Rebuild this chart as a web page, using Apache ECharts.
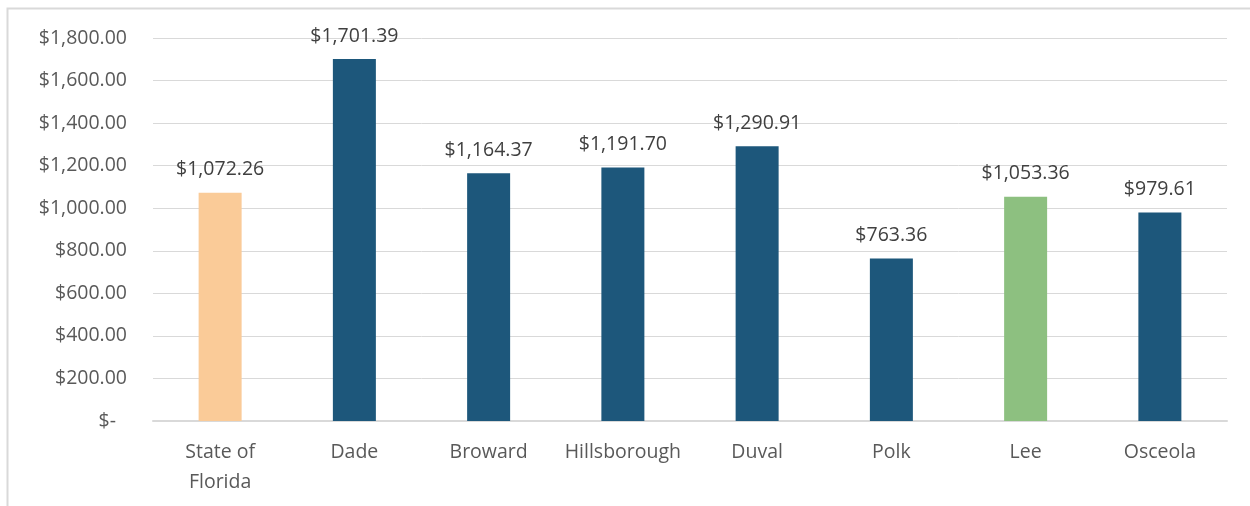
<!DOCTYPE html>
<html>
<head>
<meta charset="utf-8">
<script src="https://cdn.jsdelivr.net/npm/echarts@6/dist/echarts.min.js"></script>
<style>
  html, body { margin: 0; padding: 0; background: #fff; }
  #chart { width: 1250px; height: 506px; }
</style>
</head>
<body>
<div id="chart"></div>
<script>
// Counties and their dollar values
const categories = ['State of\nFlorida', 'Dade', 'Broward', 'Hillsborough', 'Duval', 'Polk', 'Lee', 'Osceola'];
const values = [1072.26, 1701.39, 1164.37, 1191.70, 1290.91, 763.36, 1053.36, 979.61];
const barColors = ['#FACB98', '#1D577B', '#1D577B', '#1D577B', '#1D577B', '#1D577B', '#8DC080', '#1D577B'];
const yTicks = [0, 200, 400, 600, 800, 1000, 1200, 1400, 1600, 1800];

const FONT = 'Open Sans';
const FS = 19.5;

function money(v) {
  return '$' + v.toLocaleString('en-US', { minimumFractionDigits: 2, maximumFractionDigits: 2 });
}

const chart = echarts.init(document.getElementById('chart'), null, { renderer: 'canvas' });
chart.setOption({
  animation: false,
  backgroundColor: '#fff',
  textStyle: { fontFamily: FONT },
  graphic: [{
    type: 'rect',
    shape: { x: 7.5, y: 8.5, width: 1260, height: 520 },
    style: { fill: 'none', stroke: '#D9D9D9', lineWidth: 2 },
    silent: true
  }],
  grid: { left: 153, right: 23, top: 38, bottom: 85 },
  xAxis: {
    type: 'category',
    data: categories,
    axisTick: { show: false },
    axisLine: { lineStyle: { color: '#D9D9D9', width: 2 } },
    axisLabel: {
      color: '#595959', fontSize: FS, fontFamily: FONT, lineHeight: 30, margin: 16,
      interval: 0, hideOverlap: false
    }
  },
  yAxis: {
    type: 'value',
    min: yTicks[0],
    max: yTicks[yTicks.length - 1],
    interval: 200,
    splitLine: { lineStyle: { color: '#D9D9D9', width: 1 } },
    axisLine: { show: false },
    axisTick: { show: false },
    axisLabel: {
      color: '#595959', fontSize: FS, fontFamily: FONT, margin: 26,
      formatter: v => v === 0 ? '{z|$-}' : money(v),
      rich: { z: { color: '#595959', fontSize: FS, fontFamily: FONT, padding: [0, 11, 0, 0] } }
    }
  },
  series: [{
    type: 'bar',
    barWidth: 43,
    data: values.map((v, i) => ({ value: v, itemStyle: { color: barColors[i] } })),
    label: {
      show: true,
      position: 'top',
      distance: 13,
      color: '#404040',
      fontSize: FS,
      fontFamily: FONT,
      formatter: p => money(p.value)
    }
  }]
});
</script>
</body>
</html>
